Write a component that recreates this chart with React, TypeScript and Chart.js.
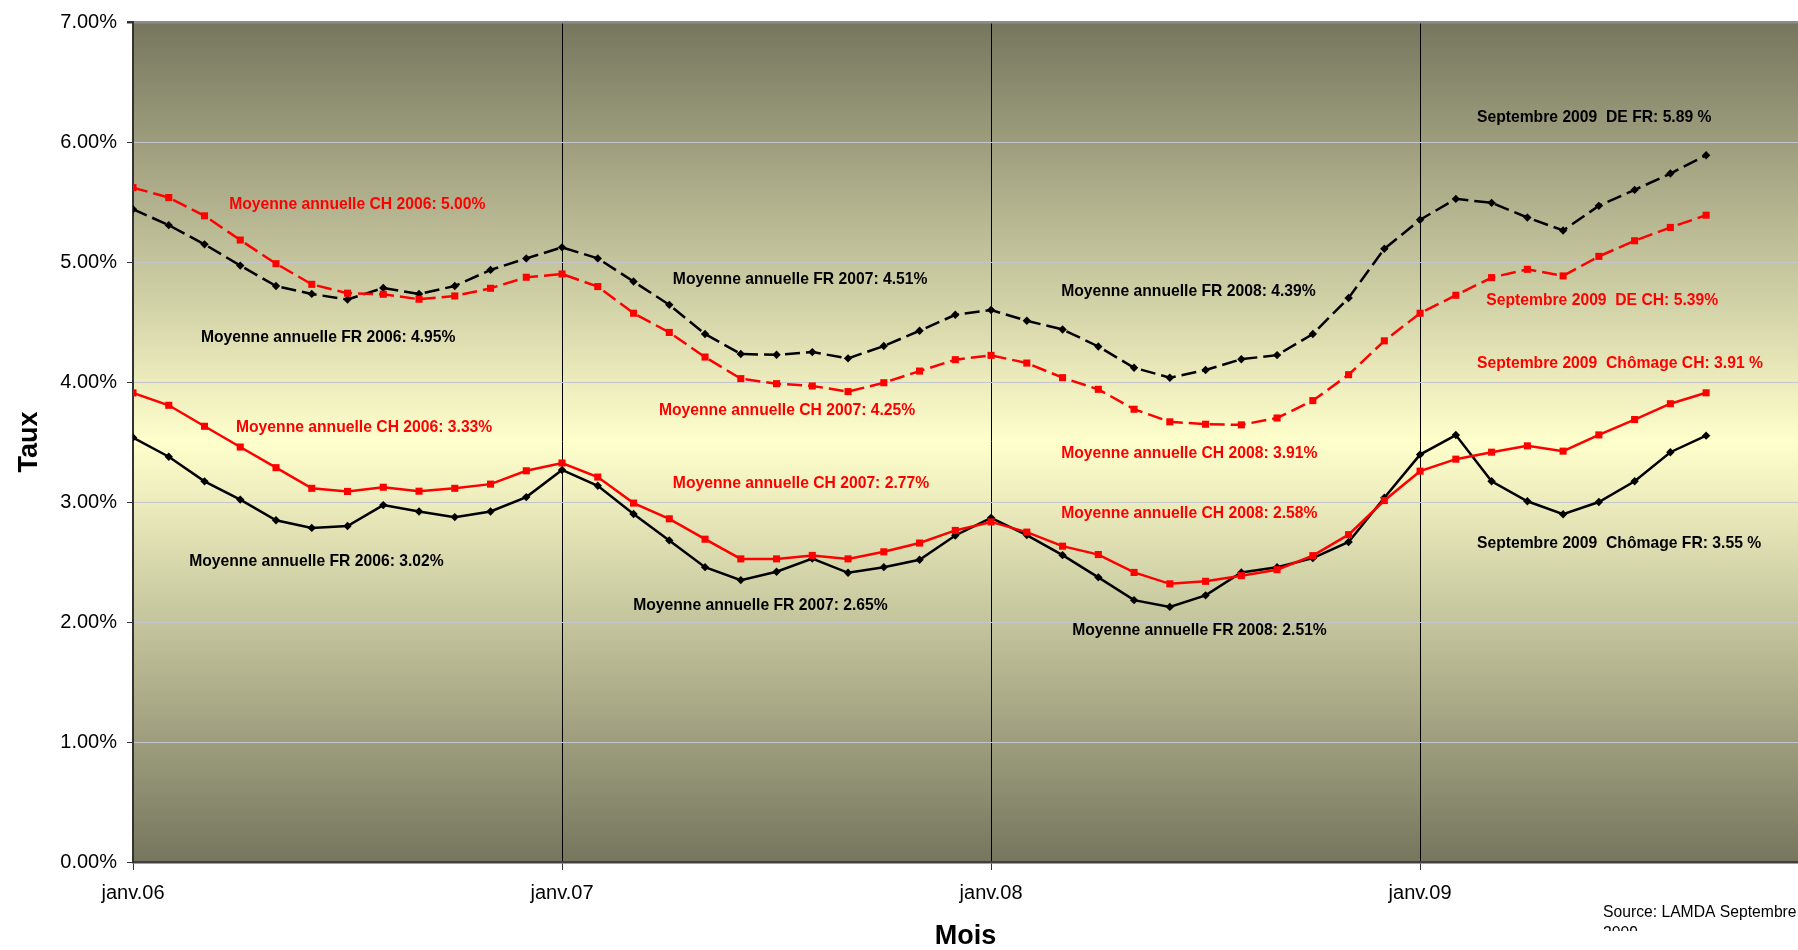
import React, { useEffect, useRef } from 'react';
import { Chart, registerables } from 'chart.js';

Chart.register(...registerables);

const FONT = '"Liberation Sans", Arial, sans-serif';

// Months Jan 2006 .. Sep 2009 (index 0 .. 44)
const monthLabels = [
  'janv.06', 'févr.06', 'mars.06', 'avr.06', 'mai.06', 'juin.06', 'juil.06', 'août.06', 'sept.06', 'oct.06', 'nov.06', 'déc.06',
  'janv.07', 'févr.07', 'mars.07', 'avr.07', 'mai.07', 'juin.07', 'juil.07', 'août.07', 'sept.07', 'oct.07', 'nov.07', 'déc.07',
  'janv.08', 'févr.08', 'mars.08', 'avr.08', 'mai.08', 'juin.08', 'juil.08', 'août.08', 'sept.08', 'oct.08', 'nov.08', 'déc.08',
  'janv.09', 'févr.09', 'mars.09', 'avr.09', 'mai.09', 'juin.09', 'juil.09', 'août.09', 'sept.09',
];

// Demandeurs d'emploi FR (black dashed)
const deFR = [
  5.44, 5.307, 5.147, 4.97, 4.80, 4.734, 4.687, 4.784, 4.734, 4.80, 4.934, 5.03,
  5.122, 5.03, 4.837, 4.643, 4.40, 4.233, 4.227, 4.249, 4.197, 4.30, 4.427, 4.56,
  4.60, 4.51, 4.438, 4.296, 4.119, 4.036, 4.10, 4.19, 4.224, 4.40, 4.70, 5.11,
  5.352, 5.526, 5.493, 5.371, 5.263, 5.468, 5.601, 5.737, 5.89,
];

// Demandeurs d'emploi CH (red dashed)
const deCH = [
  5.62, 5.537, 5.385, 5.183, 4.986, 4.814, 4.74, 4.731, 4.69, 4.717, 4.781, 4.873,
  4.90, 4.795, 4.573, 4.413, 4.208, 4.028, 3.986, 3.967, 3.92, 3.994, 4.091, 4.186,
  4.222, 4.158, 4.036, 3.939, 3.773, 3.668, 3.648, 3.643, 3.70, 3.845, 4.061, 4.343,
  4.573, 4.723, 4.87, 4.939, 4.884, 5.047, 5.177, 5.288, 5.39,
];

// Chômage CH (red solid)
const chomageCH = [
  3.909, 3.806, 3.631, 3.458, 3.286, 3.114, 3.088, 3.123, 3.09, 3.114, 3.149, 3.26,
  3.325, 3.208, 2.991, 2.86, 2.69, 2.526, 2.526, 2.555, 2.526, 2.585, 2.658, 2.763,
  2.834, 2.749, 2.632, 2.562, 2.413, 2.318, 2.339, 2.386, 2.436, 2.553, 2.728, 3.012,
  3.257, 3.357, 3.415, 3.468, 3.424, 3.559, 3.687, 3.819, 3.91,
];

// Chômage FR (black solid)
const chomageFR = [
  3.537, 3.377, 3.172, 3.02, 2.848, 2.784, 2.80, 2.974, 2.921, 2.874, 2.921, 3.041,
  3.267, 3.135, 2.90, 2.68, 2.457, 2.349, 2.419, 2.528, 2.41, 2.457, 2.519, 2.721,
  2.868, 2.724, 2.557, 2.372, 2.182, 2.126, 2.222, 2.412, 2.456, 2.532, 2.667, 3.035,
  3.395, 3.558, 3.173, 3.006, 2.898, 3.0, 3.173, 3.415, 3.553,
];

const xTickPositions = [0, 12, 24, 36];
const xTickLabels = ['janv.06', 'janv.07', 'janv.08', 'janv.09'];
const xMax = 46.57;
const yTickValues = [0, 1, 2, 3, 4, 5, 6, 7];

// Text annotations, placed in data units (month index, percent)
const annotationTexts = [
  'Moyenne annuelle CH 2006: 5.00%',
  'Moyenne annuelle FR 2006: 4.95%',
  'Moyenne annuelle CH 2006: 3.33%',
  'Moyenne annuelle FR 2006: 3.02%',
  'Moyenne annuelle FR 2007: 4.51%',
  'Moyenne annuelle CH 2007: 4.25%',
  'Moyenne annuelle CH 2007: 2.77%',
  'Moyenne annuelle FR 2007: 2.65%',
  'Moyenne annuelle FR 2008: 4.39%',
  'Moyenne annuelle CH 2008: 3.91%',
  'Moyenne annuelle CH 2008: 2.58%',
  'Moyenne annuelle FR 2008: 2.51%',
  'Septembre 2009  DE FR: 5.89 %',
  'Septembre 2009  DE CH: 5.39%',
  'Septembre 2009  Chômage CH: 3.91 %',
  'Septembre 2009  Chômage FR: 3.55 %',
];
const annotationX = [2.69, 1.90, 2.88, 1.57, 15.10, 14.71, 15.10, 13.99, 25.96, 25.96, 25.96, 26.27, 37.59, 37.85, 37.59, 37.59];
const annotationY = [5.48, 4.37, 3.62, 2.50, 4.85, 3.76, 3.15, 2.14, 4.75, 3.40, 2.90, 1.93, 6.20, 4.68, 4.15, 2.65];
const annotationColor = ['#FF0000', '#000000', '#FF0000', '#000000', '#000000', '#FF0000', '#FF0000', '#000000',
  '#000000', '#FF0000', '#FF0000', '#000000', '#000000', '#FF0000', '#FF0000', '#000000'];

const sourceLines = ['Source: LAMDA Septembre', '2009'];

const toPoints = (arr: number[]) => arr.map((v, i) => ({ x: i, y: v }));

export default function App() {
  const ref = useRef<HTMLCanvasElement>(null);

  useEffect(() => {
    const canvas = ref.current!;
    const plugin = {
      id: 'decor',
      beforeDraw(chart: any) {
        const { ctx, chartArea: a } = chart;
        const g = ctx.createLinearGradient(0, a.top, 0, a.bottom);
        g.addColorStop(0, '#76765E');
        g.addColorStop(0.5, '#FFFFCC');
        g.addColorStop(1, '#76765E');
        ctx.save();
        ctx.fillStyle = g;
        ctx.fillRect(a.left, a.top, a.right - a.left, a.bottom - a.top);
        ctx.restore();
      },
      afterDraw(chart: any) {
        const { ctx } = chart;
        const xs = chart.scales.x;
        const ys = chart.scales.y;
        ctx.save();
        ctx.font = `bold 15.7px ${FONT}`;
        ctx.textBaseline = 'middle';
        ctx.textAlign = 'left';
        annotationTexts.forEach((t, i) => {
          ctx.fillStyle = annotationColor[i];
          ctx.fillText(t, xs.getPixelForValue(annotationX[i]), ys.getPixelForValue(annotationY[i]));
        });
        ctx.beginPath();
        ctx.rect(0, 0, chart.width, 931);
        ctx.clip();
        ctx.font = `15.7px ${FONT}`;
        ctx.fillStyle = '#000000';
        ctx.fillText(sourceLines[0], 1603, 913);
        ctx.fillText(sourceLines[1], 1603, 934);
        ctx.restore();
      },
    };

    const common = { tension: 0, fill: false, pointBorderWidth: 0, pointHoverRadius: 0 };

    const chart = new Chart(canvas, {
      type: 'line',
      data: {
        datasets: [
          {
            ...common, label: 'DE CH', data: toPoints(deCH), borderColor: '#FF0000', backgroundColor: '#FF0000',
            borderDash: [15, 6], borderWidth: 2.5, pointStyle: 'rect', pointRadius: 5,
          },
          {
            ...common, label: 'Chômage CH', data: toPoints(chomageCH), borderColor: '#FF0000', backgroundColor: '#FF0000',
            borderWidth: 2.5, pointStyle: 'rect', pointRadius: 5,
          },
          {
            ...common, label: 'DE FR', data: toPoints(deFR), borderColor: '#000000', backgroundColor: '#000000',
            borderDash: [15, 6], borderWidth: 2.5, pointStyle: 'rectRot', pointRadius: 4.2,
          },
          {
            ...common, label: 'Chômage FR', data: toPoints(chomageFR), borderColor: '#000000', backgroundColor: '#000000',
            borderWidth: 2.5, pointStyle: 'rectRot', pointRadius: 4.2,
          },
        ],
      },
      options: {
        animation: false,
        responsive: false,
        maintainAspectRatio: false,
        layout: { autoPadding: false, padding: { top: 21, left: 0, right: 0, bottom: 0 } },
        plugins: { legend: { display: false }, tooltip: { enabled: false } },
        scales: {
          x: {
            type: 'linear',
            min: 0,
            max: xMax,
            afterBuildTicks: (s: any) => { s.ticks = xTickPositions.map((v) => ({ value: v })); },
            afterFit: (s: any) => { s.height = 88; },
            ticks: {
              autoSkip: false,
              maxRotation: 0,
              padding: 11,
              color: '#000000',
              font: { family: FONT, size: 20 },
              callback: (v: any) => {
                const i = xTickPositions.indexOf(Number(v));
                return i >= 0 ? xTickLabels[i] : monthLabels[Math.round(Number(v))] || '';
              },
            },
            grid: { color: '#000000', lineWidth: 1, tickLength: 8, tickColor: '#333333' },
            border: { color: '#404040', width: 2.5 },
            title: {
              display: true, text: 'Mois', color: '#000000',
              font: { family: FONT, size: 27, weight: 'bold', lineHeight: 1 },
              padding: { top: 0, bottom: 0 },
            },
          },
          y: {
            type: 'linear',
            min: 0,
            max: 7,
            afterBuildTicks: (s: any) => { s.ticks = yTickValues.map((v) => ({ value: v })); },
            afterFit: (s: any) => { s.width = 133; },
            ticks: {
              padding: 10,
              color: '#000000',
              font: { family: FONT, size: 20 },
              callback: (v: any) => Number(v).toFixed(2) + '%',
            },
            grid: {
              color: (c: any) => (c.tick && c.tick.value === 7 ? '#8C8C8C' : '#C4C4CC'),
              lineWidth: (c: any) => (c.tick && c.tick.value === 7 ? 2.5 : 1),
              tickLength: 6,
              tickColor: '#333333',
            },
            border: { color: '#333333', width: 2 },
            title: {
              display: true, text: 'Taux', color: '#000000',
              font: { family: FONT, size: 27, weight: 'bold', lineHeight: 1 },
              padding: { top: 16, bottom: 0 },
            },
          },
        },
      },
      plugins: [plugin],
    } as any);

    return () => chart.destroy();
  }, []);

  return (
    <div style={{ position: 'fixed', left: 0, top: 0, width: 1798, height: 950, background: '#ffffff' }}>
      <canvas ref={ref} width={1798} height={950} style={{ display: 'block', width: 1798, height: 950 }} />
    </div>
  );
}
